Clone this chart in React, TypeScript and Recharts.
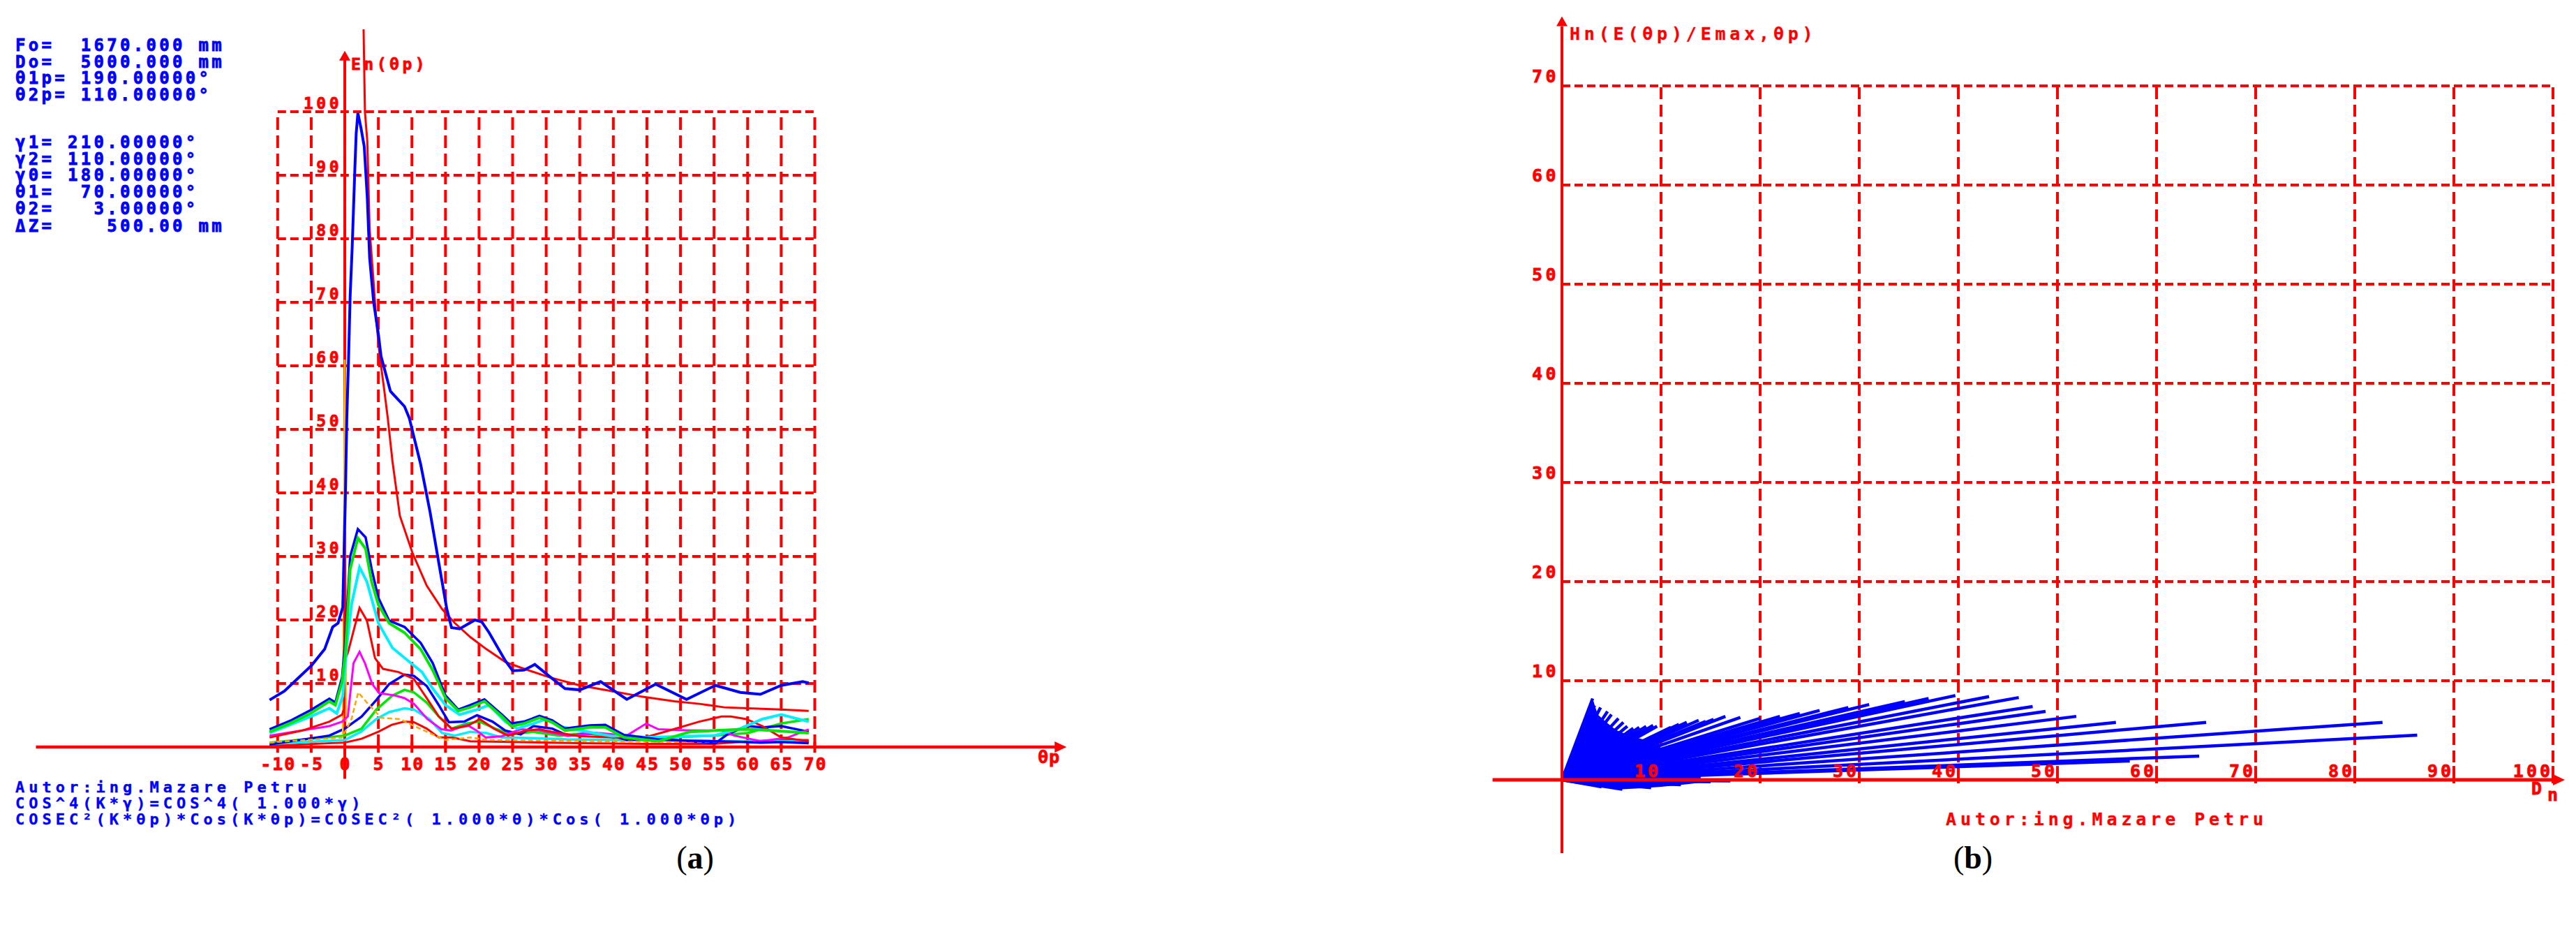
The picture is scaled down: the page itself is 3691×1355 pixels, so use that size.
import React from "react";
import {
  ComposedChart,
  Line,
  Area,
  XAxis,
  YAxis,
  ReferenceLine,
  ReferenceDot,
} from "recharts";

const RED = "#ff0000";
const BLUE = "#0000ff";
const GREEN = "#00e800";
const CYAN = "#00f0ff";
const MAGENTA = "#ff00ff";
const ORANGE = "#ffa500";
const MONO = "'DejaVu Sans Mono', monospace";

// ---------- panel (a): En(θp) ----------
const thetaTicks = [-10, -5, 0, 5, 10, 15, 20, 25, 30, 35, 40, 45, 50, 55, 60, 65, 70];
const enTicks = [10, 20, 30, 40, 50, 60, 70, 80, 90, 100];

const blueTopTheta = [-11.2, -9, -7.3, -4.9, -3, -1.8, -1, -0.3, 0.1, 0.3, 0.56, 0.8, 1.1, 1.5, 1.7, 1.95, 2.4, 2.9, 3.35, 3.7, 4.3, 5, 5.4, 6.8, 8.9, 9.6, 11.3, 12.7, 14, 15.2, 15.9, 17.1, 19.4, 20.4, 21.5, 23.9, 25, 26.7, 28.3, 30.4, 32.8, 35, 38.1, 42, 46.3, 50.9, 55.2, 58.9, 61.9, 65, 68.2, 69.1];
const blueTopEn = [7.4, 8.8, 10.5, 12.9, 15.4, 18.9, 19.5, 22, 40, 51.8, 61, 71, 78.6, 91, 96.6, 99.8, 97.5, 94.5, 86.5, 77, 70, 65, 61.5, 56, 53.6, 51.8, 44.5, 37, 29, 21.7, 18.8, 18.6, 20, 19.7, 18, 13.6, 12, 12.1, 13, 11.2, 9.2, 9, 10.3, 7.5, 9.9, 7.5, 9.7, 8.6, 8.3, 9.7, 10.3, 10.1];

const redCosecTheta = [2.8, 3.0, 3.35, 3.7, 4.3, 4.7, 5.2, 5.9, 6.4, 7.1, 8.2, 10.1, 12.2, 14.5, 16.4, 18.7, 21.1, 23.9, 26.2, 30.4, 35, 39.8, 44.4, 49.1, 52.8, 56.5, 60, 65, 69.1];
const redCosecEn = [113, 100, 95.4, 81.5, 73, 67, 61.6, 56, 51.8, 45, 36.4, 30.5, 25.4, 21.7, 19.5, 17.3, 15.4, 13.4, 12.5, 11, 9.7, 8.8, 7.9, 7.2, 6.8, 6.25, 6.1, 5.9, 5.7];

const highTheta = [-11.2, -8, -5.1, -2.3, -1.4, -0.4, 0.1, 0.8, 1.95, 3.1, 4, 5, 6.6, 8.9, 11.3, 13.1, 15, 16.9, 18.7, 20.8, 23.4, 24.8, 26.7, 29, 30.9, 32.8, 36.5, 38.8, 41.6, 46.7, 51.4, 59.3, 62, 65, 69.1];
const greenHighEn = [2.4, 3.8, 5.3, 7.2, 6.6, 10.3, 15, 28, 32.9, 31.2, 26, 22.4, 19.5, 18, 15.4, 12.1, 7.7, 5.7, 6.25, 7.2, 4.8, 3.3, 3.7, 4.6, 3.9, 2.6, 3.1, 3.1, 1.5, 0.9, 2.4, 2.8, 2.7, 2.5, 2.2];
const blueHighEn = [2.8, 4.2, 5.8, 7.6, 7.0, 11, 17, 30, 34.3, 33, 28, 23.5, 19.9, 18.9, 16.4, 13.2, 8.1, 5.9, 6.6, 7.5, 5.1, 3.7, 4.0, 4.9, 4.2, 2.9, 3.4, 3.5, 1.9, 1.2, 1.0, 0.8, 0.7, 0.8, 0.6];

const cyanHighTheta = [-11.2, -5.1, -2.3, -1.2, -0.3, 0.3, 1, 2.2, 3.3, 5, 7.1, 9.4, 11.5, 13.1, 15, 17.1, 19.7, 21.5, 23.9, 25.7, 28.1, 30, 31.8, 35, 39.8, 42, 44.9, 51.4, 55, 58.9, 62.2, 65, 69.1];
const cyanHighEn = [2.2, 4.8, 6.1, 5.3, 8, 16, 22.4, 28.3, 26, 19.5, 15.6, 13.6, 11.8, 9.2, 6.6, 5.1, 5.9, 6.6, 4, 2.9, 3.7, 4.4, 3.3, 2.6, 1.7, 1.8, 1.5, 1.7, 1.8, 2.9, 4.4, 5.1, 4];

const redMidTheta = [-11.2, -6.3, -2.3, -0.4, -0.1, 0, 0.15, 0.5, 2.2, 3.3, 4.5, 5.7, 8, 10.3, 12.2, 14, 15.9, 18.2, 20.1, 22.2, 24.3, 27.1, 29, 30.9, 35, 40, 45, 48, 52.8, 56.1, 57.5, 59.8, 62.2, 65, 69.1];
const redMidEn = [1.5, 2.6, 4, 5.1, 6, 34, 14, 15, 21.9, 19.9, 14, 12.3, 11.8, 10.7, 7.7, 4.8, 2.9, 3.3, 4.4, 2.9, 1.8, 2.6, 2.8, 2.4, 1.7, 1.5, 1.6, 2.5, 4, 4.8, 4.8, 4.4, 3.3, 1.5, 0.9];

const magentaTheta = [-11.2, -2.3, -0.4, 0.45, 1.3, 2.2, 3, 4.1, 5.1, 7.5, 8.9, 10.3, 12.3, 14.4, 15.8, 18.2, 19.6, 21, 23.4, 26.2, 29, 33, 38, 42, 44.9, 46.7, 51.4, 56.1, 58, 62, 66, 69.1];
const magentaEn = [1.8, 3.3, 4, 4.8, 13.2, 15, 13.2, 9.9, 8.5, 8.1, 7.7, 6.8, 4.4, 2.8, 2.6, 3.5, 2.6, 1.5, 1.7, 2.8, 2.6, 1.8, 2.2, 1.8, 3.7, 2.8, 2.6, 2.6, 1.8, 0.9, 1.5, 2.8];

const orangeTheta = [-11.2, -0.4, 0.1, 1, 2, 3.3, 4.8, 5.4, 8.2, 9.6, 12.6, 15, 18.7, 21.5, 30, 40, 50, 60, 69.1];
const orangeEn = [0.7, 1.5, 2.5, 4.4, 8.6, 7, 5.3, 4.6, 4.4, 3.7, 2.2, 1.1, 1.5, 1.1, 1.0, 0.9, 0.8, 0.9, 0.8];

const spikeTheta = [-0.3, 0, 0.2];
const spikeEn = [2, 61, 4];

const blueBroadTheta = [-11.2, -2.3, 0, 2.5, 4.7, 6.6, 8.9, 10.3, 12.2, 14, 15.5, 17.8, 19.7, 22, 23.9, 26.2, 28.1, 30.9, 33.2, 37.4, 39.8, 42, 45.8, 51.4, 55.2, 57, 59.8, 62.3, 65, 69.1];
const blueBroadEn = [0.4, 1.8, 2.9, 4.8, 7.4, 9.9, 11.4, 11.2, 9.6, 6.6, 3.9, 4, 5, 4, 2.6, 2, 3.3, 2.9, 1.8, 2.2, 1.8, 1.1, 1.3, 0.9, 0.6, 2.0, 3.3, 3.1, 3.3, 2.4];

const greenBroadTheta = [-11.2, 0, 2.5, 4.7, 7.1, 8.9, 10.3, 12.2, 14, 15.9, 18.2, 20.1, 22.4, 24.8, 28, 32, 36, 40, 45, 50, 55, 60, 62.3, 65, 69.1];
const greenBroadEn = [0.7, 1.8, 2.9, 5.9, 8.1, 9, 8.6, 7, 4.8, 2.9, 3.7, 4, 2.9, 2, 2.4, 1.8, 2.2, 1.5, 1.3, 1.6, 1.8, 2.2, 2.9, 3.7, 4.4];

const cyanBroadTheta = [-11.2, 0, 2.4, 4.7, 6.6, 8.9, 10.3, 12.6, 14.5, 16.4, 18.7, 21.1, 23.4, 28, 33, 40, 50, 60, 69.1];
const cyanBroadEn = [0.5, 1.1, 2.4, 4.4, 5.5, 6.1, 5.9, 4.4, 2.2, 1.8, 2.4, 2.2, 1.5, 1.4, 1.2, 1.1, 1.0, 0.9, 0.9];

const redLowTheta = [-11.2, 0, 2.5, 5, 7, 8.9, 10.3, 12.2, 14, 16, 18.7, 25, 35, 45, 55, 60, 65, 69.1];
const redLowEn = [0.2, 0.7, 1.3, 2.4, 3.5, 4, 3.9, 2.9, 1.5, 1.5, 0.9, 0.8, 0.6, 0.5, 0.5, 0.9, 1.1, 1.1];

// ---------- panel (b): Hn(E/Emax, θp) vs Dn ----------
const dnTicks = [10, 20, 30, 40, 50, 60, 70, 80, 90, 100];
const hnTicks = [10, 20, 30, 40, 50, 60, 70];

// each ray runs from the origin to its end point
const rayEndDn = [3.1, 3.3, 3.9, 4.6, 5.0, 5.7, 6.2, 6.6, 7.2, 7.8, 8.5, 9.2, 9.6, 10.3, 11, 11.8, 12.6, 13.8, 14.5, 15.3, 16.5, 18, 20, 22, 24, 26, 28.9, 31, 34.6, 37, 39.7, 43.1, 46.1, 47.5, 48.8, 51.9, 55.9, 65, 82.8, 86.3, 64.3, 57.3];
const rayEndHn = [8.2, 7.5, 7.3, 6.9, 6.6, 6.2, 5.8, 5.4, 5.2, 5.3, 5.4, 5.5, 5.4, 4.9, 5.3, 5.6, 5.8, 6.0, 5.9, 6.1, 6.4, 6.3, 6.2, 6.4, 6.7, 7.0, 7.3, 7.6, 7.9, 8.2, 8.5, 8.4, 8.3, 7.4, 6.9, 6.4, 5.8, 5.8, 5.8, 4.5, 2.4, 1.9];
const underEndDn = [4, 6.1, 9, 12, 15, 17];
const underEndHn = [-0.7, -0.95, -0.8, -0.5, -0.2, -0.1];

const blobDn = [0, 3.1, 3.6, 4.5, 5.5, 7, 8.5, 9.8, 10.3, 12, 14];
const blobHn = [0, 8.2, 6.6, 5.8, 5.0, 4.4, 4.0, 3.7, 2.2, 1.0, 0.4];
const blobUnderDn = [1, 3, 4.5, 6.1, 8, 10, 12.5, 15, 16.5];
const blobUnderHn = [0, -0.45, -0.75, -0.95, -0.85, -0.7, -0.45, -0.15, 0];

const paramTop = ["Fo=  1670.000 mm", "Do=  5000.000 mm", "θ1p= 190.00000°", "θ2p= 110.00000°"];
const paramBottom = ["γ1= 210.00000°", "γ2= 110.00000°", "γ0= 180.00000°", "θ1=  70.00000°", "θ2=   3.00000°", "ΔZ=    500.00 mm"];
const footerA = [
  "Autor:ing.Mazare Petru",
  "COS^4(K*γ)=COS^4( 1.000*γ)",
  "COSEC²(K*θp)*Cos(K*θp)=COSEC²( 1.000*θ)*Cos( 1.000*θp)",
];

const pts = (xs: number[], ys: number[]) => xs.map((x, i) => ({ x, y: ys[i] }));

const seriesA = [
  { key: "redLow", xs: redLowTheta, ys: redLowEn, color: RED, w: 3 },
  { key: "cyanBroad", xs: cyanBroadTheta, ys: cyanBroadEn, color: CYAN, w: 3.5 },
  { key: "greenBroad", xs: greenBroadTheta, ys: greenBroadEn, color: GREEN, w: 3.5 },
  { key: "blueBroad", xs: blueBroadTheta, ys: blueBroadEn, color: BLUE, w: 3.5 },
  { key: "orange", xs: orangeTheta, ys: orangeEn, color: ORANGE, w: 2.5, dash: "7 4" },
  { key: "spike", xs: spikeTheta, ys: spikeEn, color: "#ffc000", w: 2.5 },
  { key: "magenta", xs: magentaTheta, ys: magentaEn, color: MAGENTA, w: 3 },
  { key: "redMid", xs: redMidTheta, ys: redMidEn, color: RED, w: 3 },
  { key: "cyanHigh", xs: cyanHighTheta, ys: cyanHighEn, color: CYAN, w: 4 },
  { key: "blueHigh", xs: highTheta, ys: blueHighEn, color: BLUE, w: 3.5 },
  { key: "greenHigh", xs: highTheta, ys: greenHighEn, color: GREEN, w: 4 },
  { key: "redCosec", xs: redCosecTheta, ys: redCosecEn, color: RED, w: 3 },
  { key: "blueTop", xs: blueTopTheta, ys: blueTopEn, color: BLUE, w: 4 },
];

type TxtOpts = {
  dx: number;
  dy: number;
  anchor?: "start" | "middle" | "end";
  size: number;
  spacing: number;
  color?: string;
  weight?: string;
};

const makeText = (value: string, o: TxtOpts) => (p: any) => (
  <text
    x={p.cx + o.dx}
    y={p.cy + o.dy}
    textAnchor={o.anchor ?? "start"}
    fill={o.color ?? RED}
    stroke={o.color ?? RED}
    strokeWidth={0.8}
    fontFamily={MONO}
    fontSize={o.size}
    fontWeight={o.weight ?? "bold"}
    letterSpacing={o.spacing}
    style={{ whiteSpace: "pre" }}
  >
    {value}
  </text>
);

const upArrow = (p: any) => (
  <polygon points={`${p.cx},${p.cy} ${p.cx - 8},${p.cy + 14} ${p.cx + 8},${p.cy + 14}`} fill={RED} />
);
const rightArrow = (p: any) => (
  <polygon points={`${p.cx},${p.cy} ${p.cx - 17},${p.cy - 8} ${p.cx - 17},${p.cy + 8}`} fill={RED} />
);

function PanelA() {
  return (
    <div style={{ position: "absolute", left: 0, top: 0 }}>
      <ComposedChart width={1600} height={1200} margin={{ top: 41.7, right: 67, bottom: 84.5, left: 51.5 }}>
        <XAxis type="number" dataKey="x" domain={[-46, 108]} allowDataOverflow hide />
        <YAxis type="number" dataKey="y" domain={[-5, 113]} allowDataOverflow hide />
        {enTicks.map((v) => (
          <ReferenceLine key={"h" + v} segment={[{ x: -10, y: v }, { x: 70, y: v }]} stroke={RED} strokeWidth={4} strokeDasharray="12 6" />
        ))}
        {thetaTicks.map((t) => (
          <ReferenceLine key={"v" + t} segment={[{ x: t, y: 0 }, { x: t, y: 100 }]} stroke={RED} strokeWidth={4} strokeDasharray="18 8" />
        ))}
        {thetaTicks.map((t) => (
          <ReferenceLine key={"t" + t} segment={[{ x: t, y: -0.9 }, { x: t, y: 0.8 }]} stroke={RED} strokeWidth={4} />
        ))}
        <ReferenceLine segment={[{ x: -46, y: 0 }, { x: 106, y: 0 }]} stroke={RED} strokeWidth={4.5} />
        <ReferenceLine segment={[{ x: 0, y: -5 }, { x: 0, y: 108.5 }]} stroke={RED} strokeWidth={4} />
        {seriesA.map((s) => (
          <Line
            key={s.key}
            data={pts(s.xs, s.ys)}
            dataKey="y"
            type="linear"
            stroke={s.color}
            strokeWidth={s.w}
            strokeDasharray={s.dash}
            dot={false}
            isAnimationActive={false}
          />
        ))}
        <ReferenceDot x={107.5} y={0} shape={rightArrow} />
        <ReferenceDot x={0} y={109.6} shape={upArrow} />
        {enTicks.map((v) => (
          <ReferenceDot key={"yl" + v} x={0} y={v} shape={makeText(String(v), { dx: -4, dy: -4, anchor: "end", size: 23, spacing: 4.5 })} />
        ))}
        {thetaTicks.map((t) => (
          <ReferenceDot key={"xl" + t} x={t} y={0} shape={makeText(String(t), { dx: 1, dy: 33, anchor: "middle", size: 25, spacing: 2 })} />
        ))}
      </ComposedChart>
    </div>
  );
}

function PanelB() {
  return (
    <div style={{ position: "absolute", left: 2000, top: 0 }}>
      <ComposedChart width={1691} height={1300} margin={{ top: 9.4, right: 4.6, bottom: 76.5, left: 138.6 }}>
        <XAxis type="number" dataKey="x" domain={[-7, 102]} allowDataOverflow hide />
        <YAxis type="number" dataKey="y" domain={[-7.5, 78]} allowDataOverflow hide />
        {hnTicks.map((v) => (
          <ReferenceLine key={"h" + v} segment={[{ x: 0, y: v }, { x: 100, y: v }]} stroke={RED} strokeWidth={4} strokeDasharray="12 6" />
        ))}
        {dnTicks.map((d) => (
          <ReferenceLine key={"v" + d} segment={[{ x: d, y: 0 }, { x: d, y: 70 }]} stroke={RED} strokeWidth={4} strokeDasharray="17 8" />
        ))}
        {dnTicks.map((d) => (
          <ReferenceLine key={"t" + d} segment={[{ x: d, y: -0.35 }, { x: d, y: 1.4 }]} stroke={RED} strokeWidth={4} />
        ))}
        <Area
          data={pts(blobDn, blobHn)}
          dataKey="y"
          type="linear"
          baseValue={0}
          stroke="none"
          fill={BLUE}
          fillOpacity={1}
          isAnimationActive={false}
        />
        <Area
          data={pts(blobUnderDn, blobUnderHn)}
          dataKey="y"
          type="linear"
          baseValue={0}
          stroke="none"
          fill={BLUE}
          fillOpacity={1}
          isAnimationActive={false}
        />
        {rayEndDn.map((d, i) => (
          <Line
            key={"ray" + i}
            data={pts([0, d], [0, rayEndHn[i]])}
            dataKey="y"
            type="linear"
            stroke={BLUE}
            strokeWidth={4.5}
            dot={false}
            isAnimationActive={false}
          />
        ))}
        {underEndDn.map((d, i) => (
          <Line
            key={"under" + i}
            data={pts([0, d], [0, underEndHn[i]])}
            dataKey="y"
            type="linear"
            stroke={BLUE}
            strokeWidth={4.5}
            dot={false}
            isAnimationActive={false}
          />
        ))}
        <ReferenceLine segment={[{ x: -7, y: 0 }, { x: 100.5, y: 0 }]} stroke={RED} strokeWidth={5} />
        <ReferenceLine segment={[{ x: 0, y: -7.4 }, { x: 0, y: 76 }]} stroke={RED} strokeWidth={4} />
        <ReferenceDot x={101.2} y={0} shape={rightArrow} />
        <ReferenceDot x={0} y={77} shape={upArrow} />
        {hnTicks.map((v) => (
          <ReferenceDot key={"yl" + v} x={0} y={v} shape={makeText(String(v), { dx: -4, dy: -5, anchor: "end", size: 25, spacing: 4.5 })} />
        ))}
        {dnTicks.map((d) => (
          <ReferenceDot key={"xl" + d} x={d} y={0} shape={makeText(String(d), { dx: 0, dy: -4, anchor: "end", size: 25, spacing: 4 })} />
        ))}
      </ComposedChart>
    </div>
  );
}

function Overlay() {
  const t = (x: number, y: number, s: string, color: string, size: number, spacing: number, weight = "bold", sw = 0.8) => (
    <text
      key={s + x + y}
      x={x}
      y={y}
      fill={color}
      stroke={color}
      strokeWidth={sw}
      fontFamily={MONO}
      fontSize={size}
      fontWeight={weight}
      letterSpacing={spacing}
      style={{ whiteSpace: "pre" }}
    >
      {s}
    </text>
  );
  const topY = [73, 97, 120, 144];
  const botY = [212, 236, 259, 283, 307, 332];
  const footY = [1135, 1158, 1181];
  return (
    <svg width={3691} height={1355} style={{ position: "absolute", left: 0, top: 0, pointerEvents: "none" }}>
      {paramTop.map((s, i) => t(22, topY[i], s, BLUE, 24, 4.3))}
      {paramBottom.map((s, i) => t(22, botY[i], s, BLUE, 24, 4.3))}
      {footerA.map((s, i) => t(22, footY[i], s, BLUE, 22, 6, "bold", 0.4))}
      {t(503, 100, "En(θp)", RED, 23, 4.5)}
      {t(1487, 1093, "θp", RED, 25, 1)}
      {t(2249, 57, "Hn(E(θp)/Emax,θp)", RED, 25, 5.8, "bold", 0.3)}
      {t(2788, 1182, "Autor:ing.Mazare Petru", RED, 25, 5.9, "bold", 0.3)}
      {t(3627, 1138, "D", RED, 25, 0)}
      {t(3650, 1147, "n", RED, 25, 0)}
      <text x={996} y={1244} textAnchor="middle" fontFamily="'Liberation Serif', serif" fontSize={46} fill="#000">
        (<tspan fontWeight="bold">a</tspan>)
      </text>
      <text x={2827} y={1244} textAnchor="middle" fontFamily="'Liberation Serif', serif" fontSize={46} fill="#000">
        (<tspan fontWeight="bold">b</tspan>)
      </text>
    </svg>
  );
}

export default function App() {
  return (
    <div style={{ position: "absolute", left: 0, top: 0, width: 3691, height: 1355, background: "#fff", overflow: "hidden" }}>
      <PanelA />
      <PanelB />
      <Overlay />
    </div>
  );
}
